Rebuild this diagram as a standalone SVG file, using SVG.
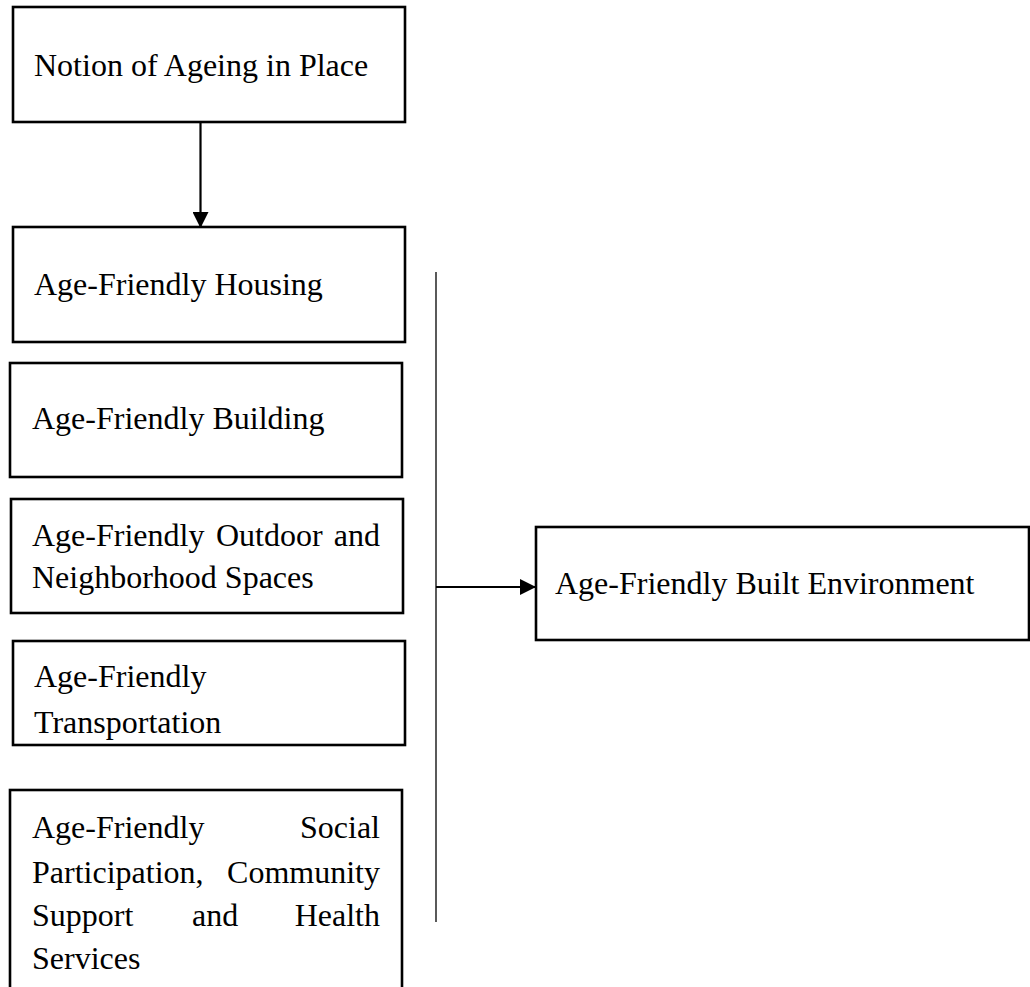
<svg xmlns="http://www.w3.org/2000/svg" width="1030" height="987" viewBox="0 0 1030 987">
<style>
.box{fill:#fff;stroke:#000;stroke-width:2.6}
.t{font-family:"Liberation Serif","Times New Roman",serif;font-size:32px;fill:#000}
.e{text-anchor:end}
.ln{stroke:#000;stroke-width:2.2;fill:none}
</style>
<defs>
<marker id="ah2" viewBox="0 0 16 16" refX="16" refY="8" markerWidth="16" markerHeight="16" markerUnits="userSpaceOnUse" orient="auto">
<path d="M0,0 L16,8 L0,16 z" fill="#000"/>
</marker>
</defs>
<rect width="1030" height="987" fill="#fff"/>
<g id="n-notion"><rect class="box" x="13" y="7" width="392" height="115"/><text class="t" x="34" y="76">Notion of Ageing in Place</text></g>
<g id="n-housing"><rect class="box" x="13" y="227" width="392" height="115"/><text class="t" x="34" y="295">Age-Friendly Housing</text></g>
<g id="n-building"><rect class="box" x="10" y="363" width="392" height="114"/><text class="t" x="32" y="429">Age-Friendly Building</text></g>
<g id="n-outdoor"><rect class="box" x="11" y="499" width="392" height="114"/><text class="t" x="32" y="546">Age-Friendly</text><text class="t" x="216" y="546">Outdoor</text><text class="t e" x="380" y="546">and</text><text class="t" x="32" y="588">Neighborhood Spaces</text></g>
<g id="n-transport"><rect class="box" x="13" y="641" width="392" height="104"/><text class="t" x="34" y="687">Age-Friendly</text><text class="t" x="34" y="733">Transportation</text></g>
<g id="n-social"><rect class="box" x="10" y="790" width="392" height="220"/><text class="t" x="32" y="838">Age-Friendly</text><text class="t e" x="380" y="838">Social</text><text class="t" x="32" y="883">Participation,</text><text class="t e" x="380" y="883">Community</text><text class="t" x="32" y="926">Support</text><text class="t" x="192" y="926">and</text><text class="t e" x="380" y="926">Health</text><text class="t" x="32" y="969">Services</text></g>
<g id="n-built"><rect class="box" x="536" y="527" width="493" height="113"/><text class="t" x="555" y="594">Age-Friendly Built Environment</text></g>
<g id="connectors">
<line class="ln" x1="200.5" y1="122" x2="200.5" y2="228" marker-end="url(#ah2)"/>
<line x1="436" y1="272" x2="436" y2="922" stroke="#000" stroke-width="1.3"/>
<line class="ln" x1="436" y1="587" x2="536" y2="587" marker-end="url(#ah2)"/>
</g>
</svg>
